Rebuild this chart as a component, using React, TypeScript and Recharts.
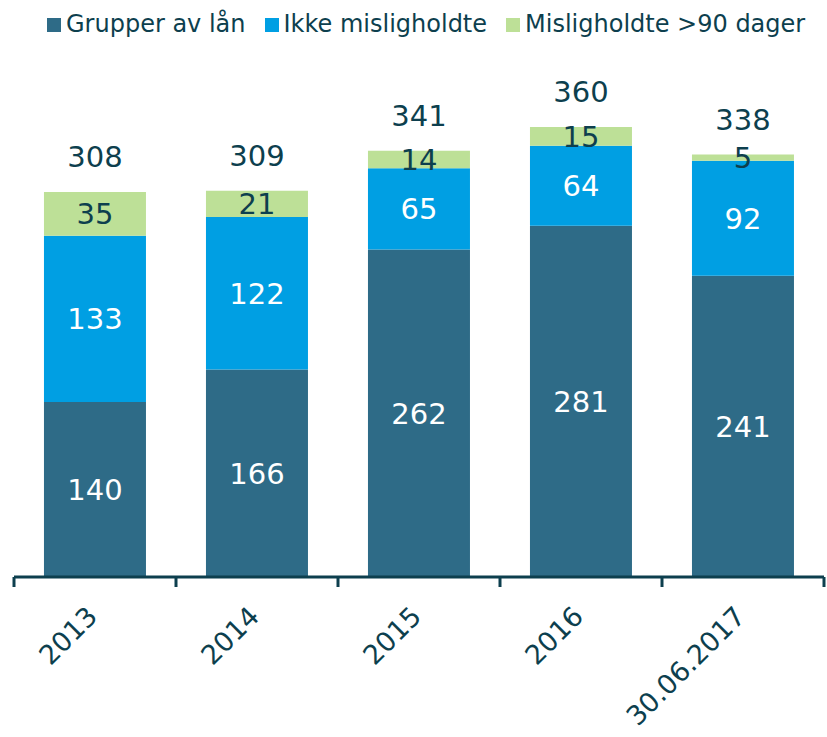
import React from 'react';
import { BarChart, Bar, XAxis, YAxis, LabelList, Legend } from 'recharts';

const categories = ['2013', '2014', '2015', '2016', '30.06.2017'];
const grupperValues = [140, 166, 262, 281, 241];
const ikkeValues = [133, 122, 65, 64, 92];
const misligValues = [35, 21, 14, 15, 5];
const seriesNames = ['Grupper av lån', 'Ikke misligholdte', 'Misligholdte >90 dager'];

const DARK = '#0d3f4e';
const C1 = '#2e6b87';
const C2 = '#009fe3';
const C3 = '#bde097';
const FONT = '"DejaVu Sans", Verdana, sans-serif';

const data = categories.map((c, i) => ({
  name: c,
  grupper: grupperValues[i],
  ikke: ikkeValues[i],
  mislig: misligValues[i],
  total: grupperValues[i] + ikkeValues[i] + misligValues[i],
}));

const colors = [C1, C2, C3];

const LegendContent = () => (
  <div
    style={{
      display: 'flex',
      alignItems: 'center',
      height: 40,
      paddingLeft: 47,
      fontFamily: FONT,
      fontSize: 24,
      color: DARK,
      whiteSpace: 'nowrap',
    }}
  >
    {seriesNames.map((n, i) => (
      <div key={n} style={{ display: 'flex', alignItems: 'center', marginRight: 19 }}>
        <span style={{ display: 'inline-block', width: 14, height: 14, background: colors[i], marginRight: 5, marginTop: 2 }} />
        <span>{n}</span>
      </div>
    ))}
  </div>
);

const Tick = (props: any) => {
  const { x, y, payload, index } = props;
  const half = payload && payload.offset ? payload.offset : 81;
  const last = index === categories.length - 1;
  const tx = x + 4;
  const ty = y + 31;
  return (
    <g>
      <line x1={x - half} x2={x - half} y1={y - 10} y2={y} stroke={DARK} strokeWidth={3} />
      {last && <line x1={x + half} x2={x + half} y1={y - 10} y2={y} stroke={DARK} strokeWidth={3} />}
      <text
        x={tx}
        y={ty}
        transform={`rotate(-45, ${tx}, ${ty})`}
        textAnchor="end"
        fill={DARK}
        fontSize={27}
        fontFamily={FONT}
      >
        {payload.value}
      </text>
    </g>
  );
};

export default function App() {
  return (
    <div style={{ position: 'absolute', left: 0, top: 0 }}>
      <BarChart
        width={827}
        height={737}
        data={data}
        margin={{ top: 37, right: 3, bottom: 0, left: 14 }}
        barCategoryGap="18.5%"
      >
        <Legend
          verticalAlign="top"
          content={<LegendContent />}
          wrapperStyle={{ top: 4, left: 0, width: 827 }}
        />
        <XAxis
          dataKey="name"
          height={160}
          axisLine={{ stroke: DARK, strokeWidth: 3 }}
          tickLine={false}
          tickSize={10}
          tickMargin={0}
          interval={0}
          tick={<Tick />}
        />
        <YAxis hide domain={[0, 400]} />
        <Bar dataKey="grupper" stackId="a" fill={C1} isAnimationActive={false}>
          <LabelList dataKey="grupper" position="center" fill="#ffffff" fontSize={29} fontFamily={FONT} />
        </Bar>
        <Bar dataKey="ikke" stackId="a" fill={C2} isAnimationActive={false}>
          <LabelList dataKey="ikke" position="center" fill="#ffffff" fontSize={29} fontFamily={FONT} />
        </Bar>
        <Bar dataKey="mislig" stackId="a" fill={C3} isAnimationActive={false}>
          <LabelList dataKey="mislig" position="center" fill={DARK} fontSize={29} fontFamily={FONT} />
          <LabelList dataKey="total" position="top" offset={25} fill={DARK} fontSize={29} fontFamily={FONT} />
        </Bar>
      </BarChart>
    </div>
  );
}
